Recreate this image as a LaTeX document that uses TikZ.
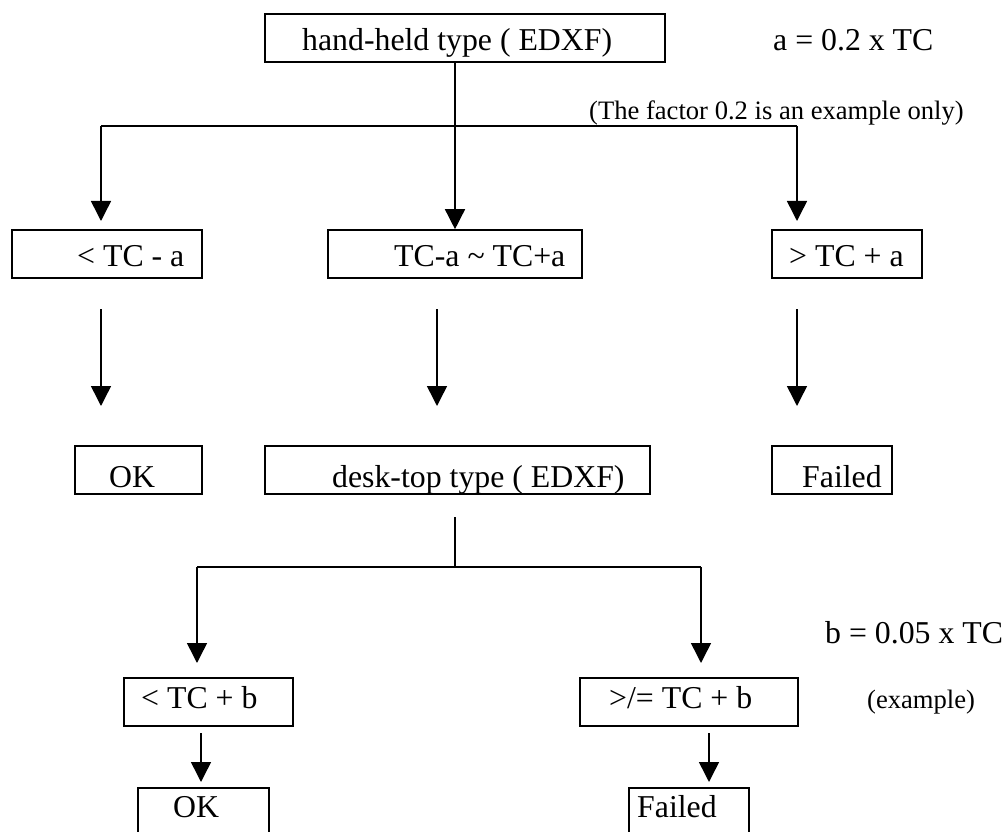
\documentclass[tikz,border=0pt]{standalone}
\usepackage{fontspec}
\setmainfont{Liberation Serif}
\usetikzlibrary{arrows.meta}
\begin{document}
\begin{tikzpicture}[x=1pt,y=-1pt,
  boxnode/.style={draw, line width=1.6pt, inner sep=0pt, minimum height=48pt},
  txt/.style={anchor=base west, inner sep=0pt, font=\fontsize{31.8}{38}\selectfont},
  smalltxt/.style={anchor=base west, inner sep=0pt, font=\fontsize{26.6}{32}\selectfont},
  conn/.style={line width=1.5pt},
  arr/.style={line width=1.5pt, -{Triangle[width=20pt,length=20pt]}}]
\useasboundingbox (0,0) rectangle (1005,832);
\clip (0,0) rectangle (1005,832);
% boxes
\node[boxnode, minimum width=400pt] (top) at (465,38) {};
\node[boxnode, minimum width=190pt] (b1) at (107,254) {};
\node[boxnode, minimum width=254pt] (b2) at (455,254) {};
\node[boxnode, minimum width=150pt] (b3) at (847,254) {};
\node[boxnode, minimum width=127pt] (ok1) at (138.5,470) {};
\node[boxnode, minimum width=385pt] (desk) at (457.5,470) {};
\node[boxnode, minimum width=120pt] (fail1) at (832,470) {};
\node[boxnode, minimum width=169pt] (c1) at (208.5,702) {};
\node[boxnode, minimum width=218pt] (c2) at (689,702) {};
\node[boxnode, minimum width=131pt] (ok2) at (203.5,812) {};
\node[boxnode, minimum width=120pt] (fail2) at (689,812) {};
% texts
\node[txt] (ttop) at (302,51) {hand-held type ( EDXF)};
\node[txt] (ta) at (773,51) {a = 0.2 x TC};
\node[smalltxt] (tfactor) at (589,119.5) {(The factor 0.2 is an example only)};
\node[txt] (tb1) at (77,266) {< TC - a};
\node[txt] (tb2) at (394,266) {TC-a \textasciitilde{} TC+a};
\node[txt] (tb3) at (789,266) {> TC + a};
\node[txt] (tok1) at (109,487) {OK};
\node[txt] (tdesk) at (332,487) {desk-top type ( EDXF)};
\node[txt] (tfail1) at (802,487) {Failed};
\node[txt] (tbb) at (825,643) {b = 0.05 x TC};
\node[txt] (tc1) at (141,708) {< TC + b};
\node[txt] (tc2) at (609,708) {>/= TC + b};
\node[smalltxt] (tex) at (867,708) {(example)};
\node[txt] (tok2) at (173,817) {OK};
\node[txt] (tfail2) at (637,817) {Failed};
% coordinates
\coordinate (s1) at (455,62);
\coordinate (hL) at (101,126);
\coordinate (hR) at (797,126);
\coordinate (eL) at (101,221);
\coordinate (eR) at (797,221);
\coordinate (a1s) at (101,309);
\coordinate (a1e) at (101,406);
\coordinate (a2s) at (437,309);
\coordinate (a2e) at (437,406);
\coordinate (a3s) at (797,309);
\coordinate (a3e) at (797,406);
\coordinate (d1) at (455,517);
\coordinate (d2) at (455,567);
\coordinate (gL) at (197,567);
\coordinate (gR) at (701,567);
\coordinate (fL) at (197,663);
\coordinate (fR) at (701,663);
\coordinate (k1s) at (201,733);
\coordinate (k1e) at (201,782);
\coordinate (k2s) at (709,733);
\coordinate (k2e) at (709,782);
% connectors
\draw[arr] (s1) -- (b2.north -| s1);
\draw[conn] (hL) -- (hR);
\draw[arr] (hL) -- (eL);
\draw[arr] (hR) -- (eR);
\draw[arr] (a1s) -- (a1e);
\draw[arr] (a2s) -- (a2e);
\draw[arr] (a3s) -- (a3e);
\draw[conn] (d1) -- (d2);
\draw[conn] (gL) -- (gR);
\draw[arr] (gL) -- (fL);
\draw[arr] (gR) -- (fR);
\draw[arr] (k1s) -- (k1e);
\draw[arr] (k2s) -- (k2e);
\end{tikzpicture}
\end{document}
